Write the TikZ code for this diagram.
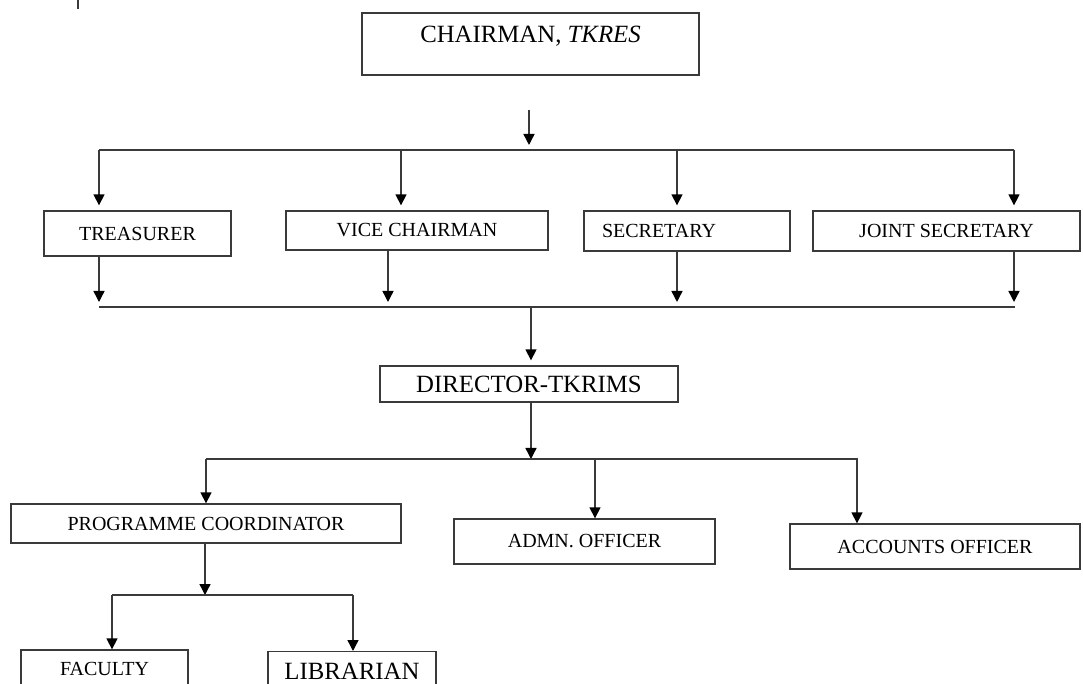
\documentclass[tikz,border=0pt]{standalone}
\usepackage{fontspec}
\setmainfont{Liberation Serif}
\usetikzlibrary{arrows.meta}
\definecolor{linegray}{HTML}{3A3A3A}
\tikzset{
  post/.style={draw=linegray,line width=0.65pt,inner sep=0pt,font=\fontsize{10}{12}\selectfont},
  bigpost/.style={post,font=\fontsize{12.4}{15}\selectfont},
  link/.style={draw=linegray,line width=0.7pt},
  down/.style={link,-{Triangle[length=5.5pt,width=5.5pt,color=black]}},
  gapped/.style={down,shorten >=2.5pt}
}

\begin{document}
\begin{tikzpicture}[x=0.5pt,y=-0.5pt]
\useasboundingbox (0,0) rectangle (1083,684);
\draw[link] (78,0) -- (78,9);

\node[bigpost,minimum width=168.5pt,minimum height=31pt,text height=8.8pt,text depth=10pt] (chair) at (530.5,44) {CHAIRMAN, \textit{TKRES}};

\node[post,minimum width=93.5pt,minimum height=22.5pt] (tres) at (137.5,233.5) {TREASURER};
\node[post,minimum width=131pt,minimum height=19.5pt] (vice) at (417,230.5) {VICE CHAIRMAN};
\node[post,minimum width=103pt,minimum height=20pt,text width=85pt,align=left,inner xsep=9pt] (secr) at (687,231) {SECRETARY};
\node[post,minimum width=133.5pt,minimum height=20pt] (jsec) at (946.5,231) {JOINT SECRETARY};

\node[bigpost,minimum width=149pt,minimum height=18pt] (dir) at (529,384) {DIRECTOR-TKRIMS};

\node[post,minimum width=195pt,minimum height=19.5pt] (pc) at (206,523.5) {PROGRAMME COORDINATOR};
\node[post,minimum width=130.5pt,minimum height=22.5pt] (adm) at (584.5,541.5) {ADMN. OFFICER};
\node[post,minimum width=145pt,minimum height=22.5pt] (acc) at (935,546.5) {ACCOUNTS OFFICER};

\node[post,minimum width=83.5pt,minimum height=19pt] (fac) at (104.5,669) {FACULTY};
\node[bigpost,minimum width=84pt,minimum height=19pt,text height=8.8pt,text depth=0pt,anchor=north] (lib) at (352,651) {LIBRARIAN};

% chairman to the four office bearers
\coordinate (c0) at (529,110);
\coordinate (t0) at (529,150);
\coordinate (t1) at (99,150);
\coordinate (t2) at (401,150);
\coordinate (t3) at (677,150);
\coordinate (t4) at (1014,150);
\draw[gapped] (c0) -- (t0);
\draw[link] (t1) -- (t4);
\foreach \t/\n in {t1/tres,t2/vice,t3/secr,t4/jsec}
  \draw[gapped] (\t) -- (\t |- \n.north);

% office bearers to director
\coordinate (u0) at (531,307);
\coordinate (u1) at (99,307);
\coordinate (u2) at (388,307);
\coordinate (u3) at (677,307);
\coordinate (u4) at (1014,307);
\draw[link] (u1) -- (1015,307);
\foreach \u/\n in {u1/tres,u2/vice,u3/secr,u4/jsec}
  \draw[gapped] (\n.south -| \u) -- (\u);
\draw[gapped] (u0) -- (u0 |- dir.north);

% director to officers
\coordinate (v0) at (531,459);
\coordinate (v1) at (206,459);
\coordinate (v2) at (595,459);
\coordinate (v3) at (857,459);
\draw[down] (dir.south -| v0) -- (v0);
\draw[link] (v1) -- (858,459);
\foreach \v/\n in {v1/pc,v2/adm,v3/acc}
  \draw[down] (\v) -- (\v |- \n.north);

% coordinator to faculty and librarian
\coordinate (w0) at (205,595);
\coordinate (w1) at (112,595);
\coordinate (w2) at (353,595);
\draw[down] (pc.south -| w0) -- (w0);
\draw[link] (w1) -- (w2);
\draw[down] (w1) -- (w1 |- fac.north);
\draw[down] (w2) -- (w2 |- lib.north);
\end{tikzpicture}
\end{document}
